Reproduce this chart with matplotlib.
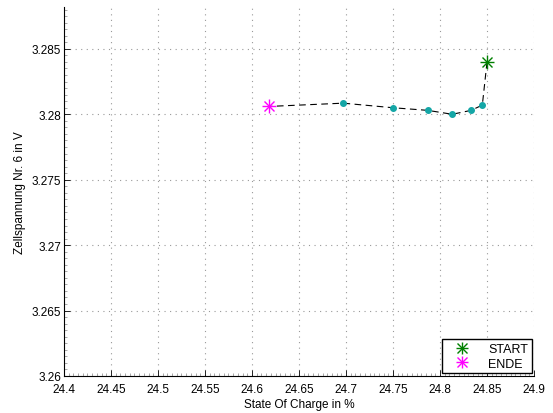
import numpy as np
from matplotlib import pyplot as plt
from matplotlib.ticker import MultipleLocator
from matplotlib.lines import Line2D

plt.rcParams['font.family'] = ['Liberation Sans', 'DejaVu Sans']

# Messpunkte (Reihenfolge: START -> ENDE)
soc = [24.850, 24.845, 24.833, 24.813, 24.787, 24.750, 24.697, 24.618]
spannung = [3.2840, 3.2807, 3.2803, 3.2800, 3.2803, 3.2805, 3.28085, 3.2806]

xticks = [24.4, 24.45, 24.5, 24.55, 24.6, 24.65, 24.7, 24.75, 24.8, 24.85, 24.9]
xlabels = ['24.4', '24.45', '24.5', '24.55', '24.6', '24.65', '24.7', '24.75', '24.8', '24.85', '24.9']
yticks = [3.26, 3.265, 3.27, 3.275, 3.28, 3.285]
ylabels = ['3.26', '3.265', '3.27', '3.275', '3.28', '3.285']

gruen = '#008000'
magenta = '#ff00ff'


def stern(x, y, c, ms, **kw):
    # MATLAB-artiger Asterisk: + und x uebereinander
    ax.plot(x, y, '+', color=c, ms=ms, mew=1, **kw)
    ax.plot(x, y, 'x', color=c, ms=ms * 0.75, mew=1, **kw)


fig = plt.figure(figsize=(5.53, 4.14), dpi=100)
ax = fig.add_axes([0.1157, 0.0894, 0.85, 0.8913])

ax.plot(soc, spannung, color='k', lw=0.8, ls=(0, (6, 4)), zorder=2)
ax.plot(soc[1:-1], spannung[1:-1], 'o', color='#14a6a6', ms=4, zorder=3)
stern(soc[0], spannung[0], gruen, 10, zorder=4)
stern(soc[-1], spannung[-1], magenta, 10, zorder=4)

ax.set_xlim(24.4, 24.9)
ax.set_ylim(3.26, 3.2882)
ax.set_xticks(xticks)
ax.set_xticklabels(xlabels)
ax.set_yticks(yticks)
ax.set_yticklabels(ylabels)
ax.xaxis.set_minor_locator(MultipleLocator(0.005))
ax.yaxis.set_minor_locator(MultipleLocator(0.0005))
ax.tick_params(which='major', direction='in', length=4, width=0.6, labelsize=8.5, pad=2)
ax.tick_params(axis='x', which='major', pad=5)
ax.tick_params(which='minor', direction='in', length=2, width=0.4, color='#666666')

ax.grid(True, which='major', ls=(0, (1, 4)), color='#999999', lw=0.8)
ax.spines['top'].set_visible(False)
ax.spines['right'].set_visible(False)
ax.spines['left'].set_linewidth(0.8)
ax.spines['bottom'].set_linewidth(0.8)

ax.set_xlabel('State Of Charge in %', fontsize=8.5, labelpad=2)
ax.set_ylabel('Zellspannung Nr. 6 in V', fontsize=8.5, labelpad=4)

h = []
for c in (gruen, magenta):
    h.append((Line2D([], [], marker='+', ls='none', color=c, ms=9, mew=1),
              Line2D([], [], marker='x', ls='none', color=c, ms=6.5, mew=1)))
leg = ax.legend(h, ['START', 'ENDE'], loc='lower right', fontsize=9, fancybox=False,
                framealpha=1, edgecolor='k', borderpad=0.3, handletextpad=0.8,
                handlelength=2.6, labelspacing=0.2, borderaxespad=0.2)
leg.get_frame().set_linewidth(1.0)

fig.savefig('out.png', dpi=100)
